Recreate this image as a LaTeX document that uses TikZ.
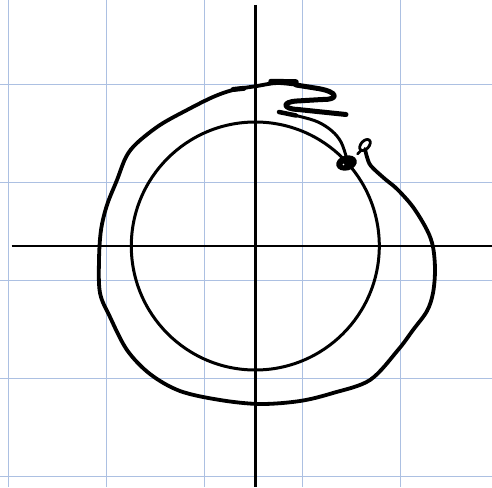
\documentclass[tikz,border=0pt]{standalone}
\definecolor{gridblue}{RGB}{172,192,226}
\tikzset{
  gridline/.style={draw=gridblue,line width=0.9pt},
  axisline/.style={draw=black,line width=2.8pt},
  pen/.style={draw=black,line width=3pt,line cap=round,line join=round},
  thickpen/.style={draw=black,line width=3.8pt,line cap=round,line join=round},
  scribble/.style={draw=black,line width=5pt,line cap=round,line join=round}
}
\begin{document}
\begin{tikzpicture}[x=1pt,y=-1pt]
\useasboundingbox (0,0) rectangle (492,487);
\fill[white] (0,0) rectangle (492,487);
% grid
\foreach \gx in {8.3,106.3,204.3,302.3,400.3}
  \draw[gridline] (\gx,0) -- (\gx,487);
\foreach \gy in {84.7,182.7,280.7,378.7,476.7}
  \draw[gridline] (0,\gy) -- (492,\gy);
% axes
\draw[axisline] (255.5,5) -- (255.5,487);
\draw[axisline] (11.5,246) -- (492,246);
% inner circle
\coordinate (o) at (255.3,246);
\draw[pen] (o) circle (124);
% outer hand-drawn loop
\draw[thickpen] plot[smooth,tension=0.55] coordinates {
 (365,149) (367,157) (371,166) (385,179) (397,189) (413,207) (427,230) (433,247)
 (435,270) (433,293) (427,311) (413,330) (398,350) (370,380) (333,393) (300,401)
 (260,404) (220,400) (180,391) (150,374) (127,350) (110,317) (100,293) (99,260)
 (101,230) (107,205) (117,180) (126,157) (137,143) (160,125) (187,110) (213,97)
 (233,90) (257,86) (277,83) (298,85)};
% scribble at the end of the loop
\draw[scribble] (296,85) -- (318,88.5)
 .. controls (339,92) and (339,100) .. (322,99.5)
 -- (297,101) .. controls (281,102) and (283,109) .. (298,109.5)
 -- (346,114.5);
% bold blobs on top
\draw[black,line width=5pt,line cap=round] (233,89.5) -- (244,88.3);
\draw[black,line width=5.5pt,line cap=round] (271,81.5) -- (296,82);
% strand from scribble to dot
\draw[pen] plot[smooth,tension=0.6] coordinates {
 (279,112) (300,116.5) (318,122) (332,131) (341,142) (346,156)};
\draw[black,line width=4.5pt,line cap=round] (279,112) -- (296,115.5);
% dot on inner circle
\coordinate (d) at (346.5,163);
\fill[black,rotate around={15:(d)}] (d) ellipse (10.5 and 7.5);
\fill[white] (343.5,164.5) circle (0.9);
% small loop
\coordinate (l) at (365,145);
\draw[black,line width=2.8pt,rotate around={48:(l)}] (l) ellipse (6.5 and 4);
\draw[black,line width=2.8pt,line cap=round] (361,150.5) -- (357.5,154);
\end{tikzpicture}
\end{document}
